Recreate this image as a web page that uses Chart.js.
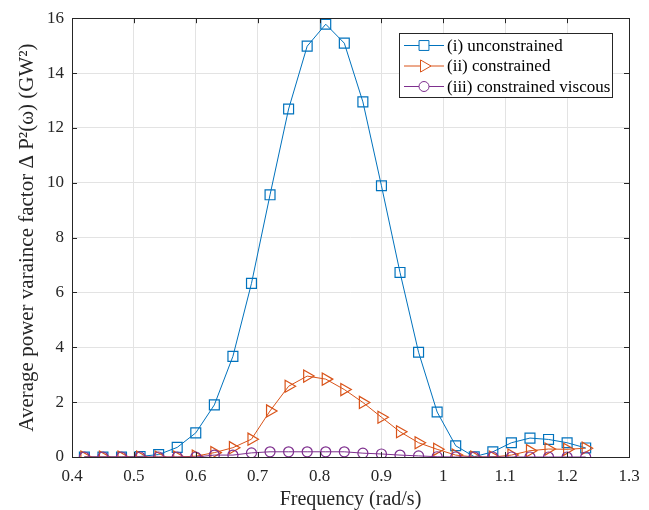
<!DOCTYPE html>
<html>
<head>
<meta charset="utf-8">
<script src="https://cdn.jsdelivr.net/npm/chart.js@4"></script>
<style>
  body { margin: 0; background: #fff; }
  #wrap { width: 649px; height: 510px; }
</style>
</head>
<body>
<div id="wrap"><canvas id="chart" width="649" height="510"></canvas></div>
<script>
// Frequencies (rad/s)
const freqs = [0.42, 0.45, 0.48, 0.51, 0.54, 0.57, 0.60, 0.63, 0.66, 0.69,
               0.72, 0.75, 0.78, 0.81, 0.84, 0.87, 0.90, 0.93, 0.96, 0.99,
               1.02, 1.05, 1.08, 1.11, 1.14, 1.17, 1.20, 1.23];

// Average power variance factor (GW^2)
const unconstrained = [0.00, 0.00, 0.00, 0.02, 0.09, 0.35, 0.88, 1.90, 3.67, 6.33,
                       9.56, 12.69, 14.98, 15.78, 15.09, 12.95, 9.89, 6.73, 3.82, 1.64,
                       0.41, 0.01, 0.19, 0.52, 0.69, 0.64, 0.52, 0.33];
const constrained = [0.00, 0.00, 0.00, 0.00, 0.00, 0.00, 0.03, 0.16, 0.34, 0.65,
                     1.68, 2.58, 2.95, 2.84, 2.46, 1.99, 1.45, 0.92, 0.52, 0.28,
                     0.07, 0.00, 0.00, 0.07, 0.23, 0.29, 0.28, 0.32];
const viscous = [0.00, 0.00, 0.00, 0.00, 0.00, 0.00, 0.00, 0.07, 0.07, 0.15,
                 0.19, 0.19, 0.19, 0.19, 0.19, 0.14, 0.11, 0.07, 0.04, 0.01,
                 0.00, 0.00, 0.00, 0.00, 0.00, 0.00, 0.00, 0.00];

const seriesNames = ['(i) unconstrained', '(ii) constrained', '(iii) constrained viscous'];
const xTicks = [0.4, 0.5, 0.6, 0.7, 0.8, 0.9, 1.0, 1.1, 1.2, 1.3];
const yTicks = [0, 2, 4, 6, 8, 10, 12, 14, 16];

const BLUE = '#0072BD', ORANGE = '#D95319', PURPLE = '#7E2F8E';
const SERIF = '"Liberation Serif", "Times New Roman", serif';

function pts(ys) {
  return freqs.map((f, i) => ({ x: f, y: ys[i] }));
}

// box, inward ticks and the legend drawn like the original figure
const figureExtras = {
  id: 'figureExtras',
  afterDraw(chart) {
    const { ctx, chartArea: a, scales } = chart;
    ctx.save();
    ctx.strokeStyle = '#262626';
    ctx.lineWidth = 1;
    ctx.strokeRect(Math.round(a.left) + 0.5, Math.round(a.top) + 0.5,
                   Math.round(a.right - a.left), Math.round(a.bottom - a.top));
    ctx.beginPath();
    const tl = 5;
    xTicks.forEach(v => {
      const x = Math.round(scales.x.getPixelForValue(v)) + 0.5;
      ctx.moveTo(x, a.bottom); ctx.lineTo(x, a.bottom - tl);
      ctx.moveTo(x, a.top); ctx.lineTo(x, a.top + tl);
    });
    yTicks.forEach(v => {
      const y = Math.round(scales.y.getPixelForValue(v)) + 0.5;
      ctx.moveTo(a.left, y); ctx.lineTo(a.left + tl, y);
      ctx.moveTo(a.right, y); ctx.lineTo(a.right - tl, y);
    });
    ctx.stroke();

    // legend
    const bx = 399, by = 33, bw = 213, bh = 64;
    ctx.fillStyle = '#fff';
    ctx.fillRect(bx, by, bw, bh);
    ctx.strokeStyle = '#262626';
    ctx.strokeRect(bx + 0.5, by + 0.5, bw, bh);
    ctx.font = '17px ' + SERIF;
    ctx.textBaseline = 'middle';
    chart.data.datasets.forEach((ds, i) => {
      const y = by + 12.5 + i * 20.5;
      ctx.strokeStyle = ds.borderColor;
      ctx.lineWidth = 1;
      ctx.beginPath();
      ctx.moveTo(bx + 5, y); ctx.lineTo(bx + 45, y);
      ctx.stroke();
      ctx.fillStyle = '#fff';
      Chart.helpers.drawPoint(ctx, {
        pointStyle: ds.pointStyle, radius: ds.pointRadius,
        rotation: ds.pointRotation || 0, borderWidth: ds.pointBorderWidth
      }, bx + 25, y);
      ctx.fillStyle = '#000';
      ctx.fillText(seriesNames[i], bx + 48, y + 1);
    });
    ctx.restore();
  }
};

new Chart(document.getElementById('chart'), {
  type: 'line',
  data: {
    datasets: [
      { label: seriesNames[0], data: pts(unconstrained), borderColor: BLUE, borderWidth: 1,
        pointStyle: 'rect', pointRadius: 7, pointBorderWidth: 1.2, order: 3,
        pointBackgroundColor: 'rgba(0,0,0,0)', pointBorderColor: BLUE, fill: false },
      { label: seriesNames[1], data: pts(constrained), borderColor: ORANGE, borderWidth: 1,
        pointStyle: 'triangle', pointRotation: 90, pointRadius: 7, pointBorderWidth: 1.2, order: 2,
        pointBackgroundColor: 'rgba(0,0,0,0)', pointBorderColor: ORANGE, fill: false },
      { label: seriesNames[2], data: pts(viscous), borderColor: PURPLE, borderWidth: 1,
        pointStyle: 'circle', pointRadius: 5, pointBorderWidth: 1.2, order: 1,
        pointBackgroundColor: 'rgba(0,0,0,0)', pointBorderColor: PURPLE, fill: false }
    ]
  },
  options: {
    responsive: false,
    animation: false,
    layout: { padding: { left: 0, top: 16, right: 20, bottom: 0 } },
    plugins: { legend: { display: false }, tooltip: { enabled: false } },
    scales: {
      x: {
        type: 'linear', min: 0.4, max: 1.3,
        afterBuildTicks: s => { s.ticks = xTicks.map(v => ({ value: v })); },
        afterFit: s => { s.height = 53; },
        grid: { color: '#e3e3e3', drawTicks: false },
        border: { display: false },
        ticks: { color: '#262626', padding: 9, font: { family: SERIF, size: 17 },
                 callback: v => String(Math.round(v * 10) / 10) },
        title: { display: true, text: 'Frequency (rad/s)', color: '#262626',
                 font: { family: SERIF, size: 20, lineHeight: 1 }, padding: { top: 0, bottom: 0 } }
      },
      y: {
        min: 0, max: 16,
        afterBuildTicks: s => { s.ticks = yTicks.map(v => ({ value: v })); },
        afterFit: s => { s.width = 72; },
        grid: { color: '#e3e3e3', drawTicks: false },
        border: { display: false },
        ticks: { color: '#262626', padding: 8, font: { family: SERIF, size: 17 } },
        title: { display: true, text: 'Average power varaince factor \u0394 P\u00b2(\u03c9) (GW\u00b2)',
                 color: '#262626', font: { family: SERIF, size: 21, lineHeight: 1.2 },
                 padding: { top: 15, bottom: 0 } }
      }
    }
  },
  plugins: [figureExtras]
});
</script>
</body>
</html>
